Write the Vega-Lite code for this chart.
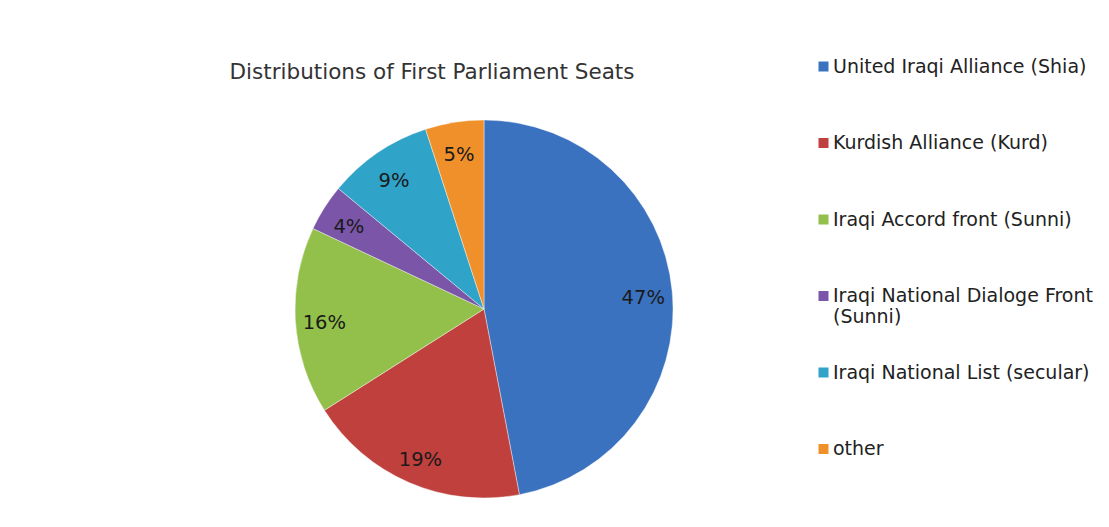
{
  "$schema": "https://vega.github.io/schema/vega-lite/v6.json",
  "width": 400,
  "height": 400,
  "autosize": {"type": "none"},
  "padding": {"left": 284, "top": 109, "right": 425, "bottom": 18},
  "background": "white",
  "config": {"view": {"stroke": null}},
  "title": {
    "text": "Distributions of First Parliament Seats",
    "anchor": "middle",
    "frame": "group",
    "dx": -52,
    "dy": 52,
    "offset": 26,
    "font": "DejaVu Sans",
    "fontSize": 21.5,
    "fontWeight": "normal",
    "color": "#333333"
  },
  "data": {
    "values": [
      {"i": 1, "party": "United Iraqi Alliance (Shia)", "share": 0.47},
      {"i": 2, "party": "Kurdish Alliance (Kurd)", "share": 0.19},
      {"i": 3, "party": "Iraqi Accord front (Sunni)", "share": 0.16},
      {"i": 4, "party": "Iraqi National Dialoge Front (Sunni)", "share": 0.04},
      {"i": 5, "party": "Iraqi National List (secular)", "share": 0.09},
      {"i": 6, "party": "other", "share": 0.05}
    ]
  },
  "encoding": {
    "theta": {"field": "share", "type": "quantitative", "stack": true},
    "order": {"field": "i", "type": "quantitative"}
  },
  "layer": [
    {
      "mark": {"type": "arc", "outerRadius": 189, "stroke": "#ffffff", "strokeWidth": 0.8, "strokeOpacity": 0.5},
      "encoding": {
        "color": {
          "field": "party",
          "type": "nominal",
          "sort": null,
          "scale": {
            "domain": ["United Iraqi Alliance (Shia)", "Kurdish Alliance (Kurd)", "Iraqi Accord front (Sunni)", "Iraqi National Dialoge Front (Sunni)", "Iraqi National List (secular)", "other"],
            "range": ["#3a72c0", "#bf403d", "#93c04a", "#7a55a8", "#30a3c8", "#f0902a"]
          },
          "legend": {
            "orient": "none",
            "legendX": 530,
            "legendY": -52,
            "title": null,
            "symbolType": "square",
            "symbolSize": 100,
            "symbolStrokeWidth": 0,
            "labelFont": "DejaVu Sans",
            "labelFontSize": 19,
            "labelColor": "#222222",
            "labelOffset": 0,
            "labelBaseline": "middle",
            "labelLimit": 400,
            "gridAlign": "all",
            "rowPadding": 35.5,
            "labelExpr": "datum.label == 'Iraqi National Dialoge Front (Sunni)' ? ['Iraqi National Dialoge Front', '(Sunni)'] : datum.label"
          }
        }
      }
    },
    {
      "mark": {"type": "text", "radius": 160, "dy": 4, "font": "DejaVu Sans", "fontSize": 19.5, "fill": "#1a1a1a"},
      "encoding": {
        "text": {"field": "share", "type": "quantitative", "format": ".0%"}
      }
    }
  ]
}
